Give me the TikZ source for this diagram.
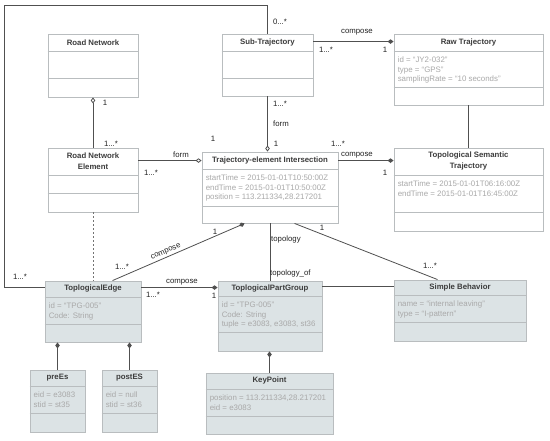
\documentclass[tikz,border=0pt]{standalone}
\usepackage{fontspec}
\setmainfont{Liberation Sans}
\usetikzlibrary{arrows.meta,fit,calc}
\definecolor{boxline}{HTML}{B9BDBF}
\definecolor{boxfill}{HTML}{DCE3E5}
\definecolor{attrgray}{HTML}{A9A9A9}
\definecolor{hdrtext}{HTML}{3C3C3C}
\definecolor{conn}{HTML}{505050}
\definecolor{lbltext}{HTML}{222222}
\tikzset{
  cls/.style={draw=boxline, line width=0.9pt, fill=white, inner sep=0pt},
  clsf/.style={cls, fill=boxfill},
  sepline/.style={draw=boxline, line width=0.9pt},
  hdr/.style={font=\fontsize{7.8}{11}\selectfont\bfseries, text=hdrtext, align=center, inner sep=0pt},
  attr/.style={font=\fontsize{7.9}{9.7}\selectfont, text=attrgray, align=left, inner sep=0pt, anchor=north west},
  lbl/.style={font=\fontsize{7.8}{9}\selectfont, text=lbltext, inner sep=0pt},
  con/.style={draw=conn, line width=0.8pt},
  odia/.style={con, -{Diamond[open,length=6pt,width=4.5pt]}},
  fdia/.style={con, -{Diamond[length=6pt,width=4.5pt]}},
  dashcon/.style={draw=conn!80, line width=0.8pt, dash pattern=on 2pt off 2pt},
}
\newcommand\umlcls[8]{%
  \node[#2, fit={#3 #4}] (#1) {};
  \draw[sepline] (#1.west |- 0,#5) -- (#1.east |- 0,#5);
  \draw[sepline] (#1.west |- 0,#6) -- (#1.east |- 0,#6);
  \node[hdr] (#1-h) at ($(#1.north)!0.5!(#1.north |- 0,#5)$) {#7};
  \node[attr] (#1-a) at ([xshift=4pt,yshift=-5.4pt]#1.west |- 0,#5) {#8};
}
\begin{document}
\begin{tikzpicture}[x=1pt,y=-1pt]
\useasboundingbox (0,0) rectangle (550,440);
\fill[white] (0,0) rectangle (550,440);

\umlcls{rn}{cls}{(48,34)}{(138,97)}{51}{78}{Road Network}{}
\umlcls{st}{cls}{(222,34)}{(313,96)}{51}{78}{Sub-Trajectory}{}
\umlcls{raw}{cls}{(394,34)}{(543,105)}{51}{87}{Raw Trajectory}{id = “JY2-032”\\type = “GPS”\\samplingRate = “10 seconds”}
\umlcls{tst}{cls}{(394,148)}{(543,231)}{175}{212}{Topological Semantic\\Trajectory}{startTime = 2015-01-01T06:16:00Z\\endTime = 2015-01-01T16:45:00Z}
\umlcls{tei}{cls}{(202,152)}{(338,223)}{169}{206}{Trajectory-element Intersection}{startTime = 2015-01-01T10:50:00Z\\endTime = 2015-01-01T10:50:00Z\\position = 113.211334,28.217201}
\umlcls{rne}{cls}{(48,148)}{(138,212)}{175}{193}{Road Network\\Element}{}
\umlcls{te}{clsf}{(45,281)}{(141,342)}{297}{324}{ToplogicalEdge}{id = “TPG-005”\\Code: String}
\umlcls{tpg}{clsf}{(218,281)}{(322,351)}{296}{332}{ToplogicalPartGroup}{id = “TPG-005”\\Code: String\\tuple = e3083, e3083, st36}
\umlcls{sb}{clsf}{(394,280)}{(526,341)}{295}{322}{Simple Behavior}{name = “internal leaving”\\type = “I-pattern”}
\umlcls{pre}{clsf}{(30,370)}{(85,432)}{386}{413}{preEs}{eid = e3083\\stid = st35}
\umlcls{post}{clsf}{(102,370)}{(157,432)}{386}{413}{postES}{eid = null\\stid = st36}
\umlcls{kp}{clsf}{(206,373)}{(333,434)}{389}{416}{KeyPoint}{position = 113.211334,28.217201\\eid = e3083}

% connectors
\coordinate (loopTL) at (4,5);
\draw[con] (st.north) |- (loopTL) |- ([yshift=-7pt]te.north west);
\draw[fdia] ([yshift=-8pt]st.north east) -- ([yshift=-8pt]raw.north west);
\draw[con] (raw.south) -- (raw.south |- tst.north);
\draw[odia] (st.south) -- (st.south |- tei.north);
\draw[odia] (rne.north) -- (rn.south);
\draw[odia] ([yshift=-13pt]rne.north east) -- ([yshift=-13pt]rne.north east -| tei.west);
\draw[fdia] ([yshift=-9pt]tei.north east) -- ([yshift=-9pt]tei.north east -| tst.west);
\draw[dashcon] (rne.south) -- (te.north);
\draw[fdia] ([xshift=68pt]te.north west) -- ([xshift=43pt]tei.south west);
\draw[fdia] ([yshift=-7pt]te.north east) -- ([yshift=-7pt]te.north east -| tpg.west);
\draw[con] (tei.south) -- (tei.south |- tpg.north);
\draw[con] ([xshift=93pt]tei.south west) -- ([xshift=44pt]sb.north west);
\draw[con] ([yshift=-6pt]tpg.north east) -- ([yshift=-6pt]tpg.north east -| sb.west);
\draw[fdia] (pre.north) -- (pre.north |- te.south);
\draw[fdia] (post.north) -- (post.north |- te.south);
\draw[fdia] (kp.north) -- (kp.north |- tpg.south);

% labels
\node[lbl] (m1) at (280,22) {0...*};
\node[lbl] (m2) at (357,32) {compose};
\node[lbl] (m3) at (326,50) {1...*};
\node[lbl] (m4) at (385,50) {1};
\node[lbl] (m5) at (105,103) {1};
\node[lbl] (m6) at (111,144) {1...*};
\node[lbl] (m7) at (213,139) {1};
\node[lbl] (m8) at (280,104) {1...*};
\node[lbl] (m9) at (281,124) {form};
\node[lbl] (m10) at (276,144) {1};
\node[lbl] (m11) at (338,144) {1...*};
\node[lbl] (m12) at (181,155) {form};
\node[lbl] (m13) at (151,173) {1...*};
\node[lbl] (m14) at (357,155) {compose};
\node[lbl] (m15) at (385,173) {1};
\node[lbl] (m16) at (20,277) {1...*};
\node[lbl, rotate=22.6] (m17) at (166,252) {compose};
\node[lbl] (m18) at (215,232) {1};
\node[lbl] (m19) at (122,267) {1...*};
\node[lbl, anchor=west] (m20) at (271,239) {topology};
\node[lbl, anchor=west] (m21) at (270,273) {topology\_of};
\node[lbl] (m22) at (182,282) {compose};
\node[lbl] (m23) at (153,295) {1...*};
\node[lbl] (m24) at (214,296) {1};
\node[lbl] (m25) at (322,228) {1};
\node[lbl] (m26) at (430,266) {1...*};
\end{tikzpicture}
\end{document}
